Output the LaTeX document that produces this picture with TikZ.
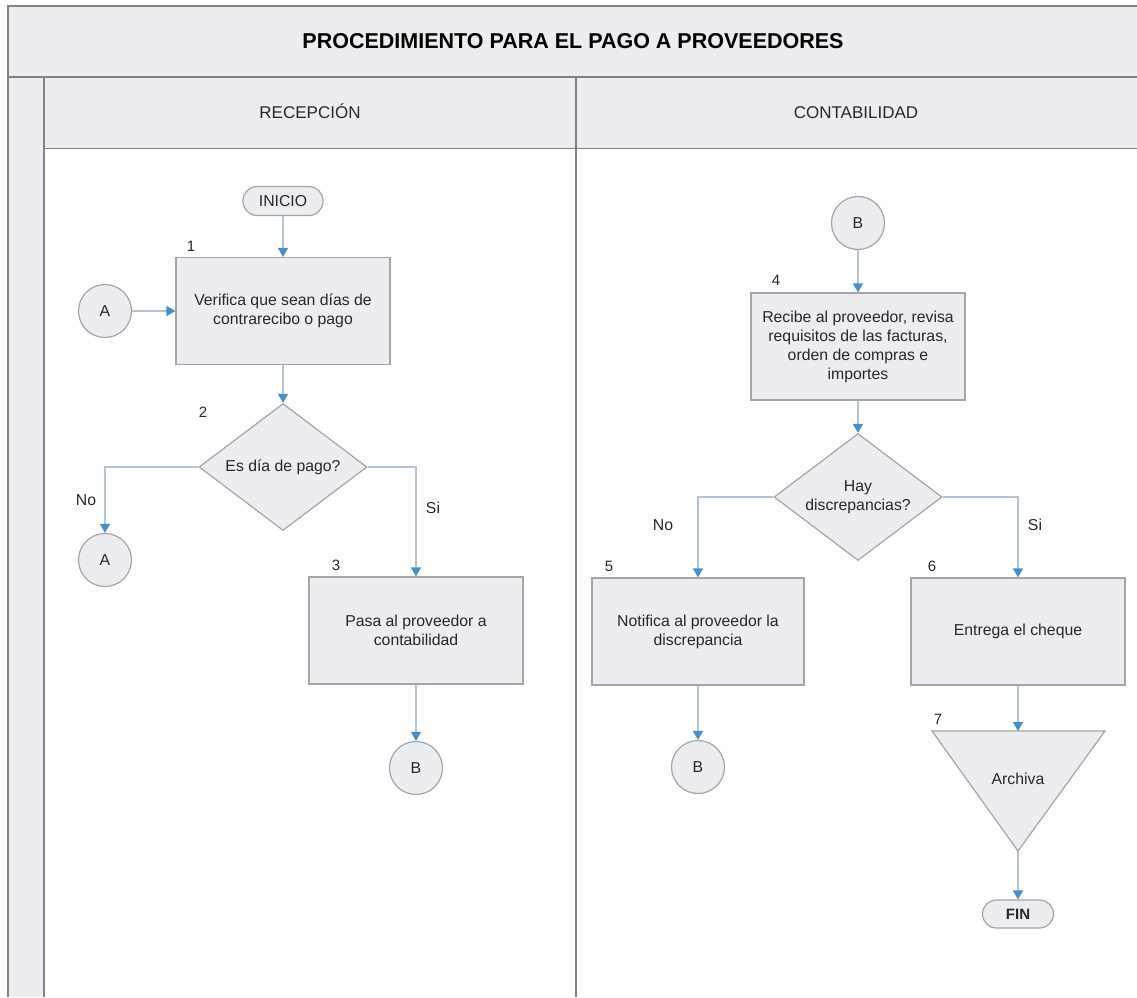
\documentclass[tikz,border=0pt]{standalone}
\usepackage{fontspec}
\setmainfont{Liberation Sans}
\usetikzlibrary{shapes.geometric,arrows.meta}
\definecolor{gfill}{RGB}{236,237,241}
\definecolor{gline}{RGB}{165,165,165}
\definecolor{frameline}{RGB}{130,130,130}
\definecolor{conn}{RGB}{178,196,214}
\definecolor{tipblue}{RGB}{72,142,200}
\definecolor{txt}{RGB}{40,40,40}
\begin{document}
\begin{tikzpicture}[x=1pt,y=-1pt,
  every node/.style={text=txt,font=\fontsize{15.8}{19}\selectfont},
  proc/.style={draw=gline,fill=gfill,line width=1.2pt,minimum width=214pt,minimum height=107pt,align=center,inner sep=4pt},
  conncirc/.style={circle,draw=gline,fill=gfill,line width=1.2pt,minimum size=53pt,inner sep=0pt},
  decision/.style={diamond,draw=gline,fill=gfill,line width=1.2pt,minimum width=168pt,minimum height=127pt,aspect=1.32,inner sep=0pt,align=center},
  terminal/.style={rectangle,rounded corners=14pt,draw=gline,fill=gfill,line width=1.2pt,minimum width=80pt,minimum height=29pt,inner sep=0pt},
  flow/.style={draw=conn,line width=1.2pt,-{Triangle[width=10pt,length=9pt,color=tipblue]}},
  steplabel/.style={font=\fontsize{15}{18}\selectfont},
  lanehead/.style={font=\fontsize{17}{20}\selectfont,anchor=base},
  frame/.style={draw=frameline,line width=1.5pt}
]
\useasboundingbox (0,0) rectangle (1137,997);
\fill[white] (0,0) rectangle (1137,997);
% swimlane frame
\fill[gfill] (8,6) rectangle (1137,76);
\fill[gfill] (8,76) rectangle (44,997);
\fill[gfill] (44,77) rectangle (1137,148);
\draw[frame] (1137,6) -- (8,6) -- (8,997);
\draw[frame,line width=2pt] (8,76.5) -- (1137,76.5);
\draw[frame] (44,76.5) -- (44,997);
\draw[frame,line width=1pt] (44,148) -- (1137,148);
\draw[frame] (576,77) -- (576,997);

\node[font=\bfseries\fontsize{21.5}{24}\selectfont,text=black] (title) at (573,41) {PROCEDIMIENTO PARA EL PAGO A PROVEEDORES};
\node[lanehead] (lane1) at (310,118) {RECEPCIÓN};
\node[lanehead] (lane2) at (856,118) {CONTABILIDAD};

% left lane nodes
\node[terminal] (inicio) at (283,201) {INICIO};
\node[proc] (b1) at (283,311) {Verifica que sean días de\\contrarecibo o pago};
\node[conncirc] (cA1) at (105,311) {A};
\node[decision] (d2) at (283,467) {Es día de pago?};
\node[conncirc] (cA2) at (105,560) {A};
\node[proc] (b3) at (416,630.5) {Pasa al proveedor a\\contabilidad};
\node[conncirc] (cB1) at (416,768) {B};

% right lane nodes
\node[conncirc] (cB2) at (858,223) {B};
\node[proc] (b4) at (858,346.5) {Recibe al proveedor, revisa\\requisitos de las facturas,\\orden de compras e\\importes};
\node[decision] (d4) at (858,497) {Hay\\discrepancias?};
\node[proc,minimum width=212pt] (b5) at (698,631.5) {Notifica al proveedor la\\discrepancia};
\node[proc] (b6) at (1018,631.5) {Entrega el cheque};
\node[conncirc] (cB3) at (698,767) {B};

% merge (triangle)
\coordinate (t7l) at (932,731);
\coordinate (t7r) at (1105,731);
\coordinate (t7b) at (1018,851);
\coordinate (t7top) at (1018,731);
\draw[draw=gline,fill=gfill,line width=1.2pt] (t7l) -- (t7r) -- (t7b) -- cycle;
\node (archiva) at (1018,779) {Archiva};
\node[terminal,minimum width=71pt,minimum height=28pt,font=\bfseries\fontsize{15}{18}\selectfont] (fin) at (1018,914) {FIN};

% step numbers
\node[steplabel] (n1) at (191,246) {1};
\node[steplabel] (n2) at (203,412) {2};
\node[steplabel] (n3) at (336,565) {3};
\node[steplabel] (n4) at (776,280) {4};
\node[steplabel] (n5) at (609,566) {5};
\node[steplabel] (n6) at (932,566) {6};
\node[steplabel] (n7) at (938,719) {7};

% branch labels
\node (no1) at (86,500) {No};
\node (si1) at (433,508) {Si};
\node (no2) at (663,525) {No};
\node (si2) at (1035,525) {Si};

% connectors
\draw[flow] (inicio.south) -- (b1.north);
\draw[flow] (cA1.east) -- (b1.west);
\draw[flow] (b1.south) -- (d2.north);
\draw[flow] (d2.west) -| (cA2.north);
\draw[flow] (d2.east) -| (b3.north);
\draw[flow] (b3.south) -- (cB1.north);
\draw[flow] (cB2.south) -- (b4.north);
\draw[flow] (b4.south) -- (d4.north);
\draw[flow] (d4.west) -| (b5.north);
\draw[flow] (d4.east) -| (b6.north);
\draw[flow] (b5.south) -- (cB3.north);
\draw[flow] (b6.south) -- (t7top);
\draw[flow] (t7b) -- (fin.north);
\end{tikzpicture}
\end{document}
